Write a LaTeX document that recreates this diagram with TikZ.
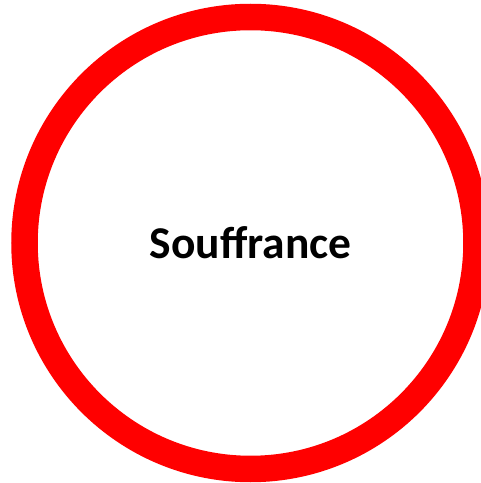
\documentclass[tikz,border=0pt]{standalone}
\usepackage{fontspec}
\setmainfont{Carlito}
\usepackage{xcolor}
\usepackage{tikz}
\usetikzlibrary{positioning}
\tikzstyle{ring} = [circle, draw=red, line width=26.5pt, minimum size=452pt, inner sep=0pt]
\tikzstyle{label} = [font=\fontsize{45.5}{52}\selectfont\bfseries, text=black, inner sep=0pt]

\begin{document}
\begin{tikzpicture}[x=1pt, y=1pt]
    \useasboundingbox (0,0) rectangle (481,483);
    \node (circ) [ring] at (250.5,240) {};
    \node (word) [label, anchor=base] at (250.5,224) {Souffrance};
\end{tikzpicture}
\end{document}
